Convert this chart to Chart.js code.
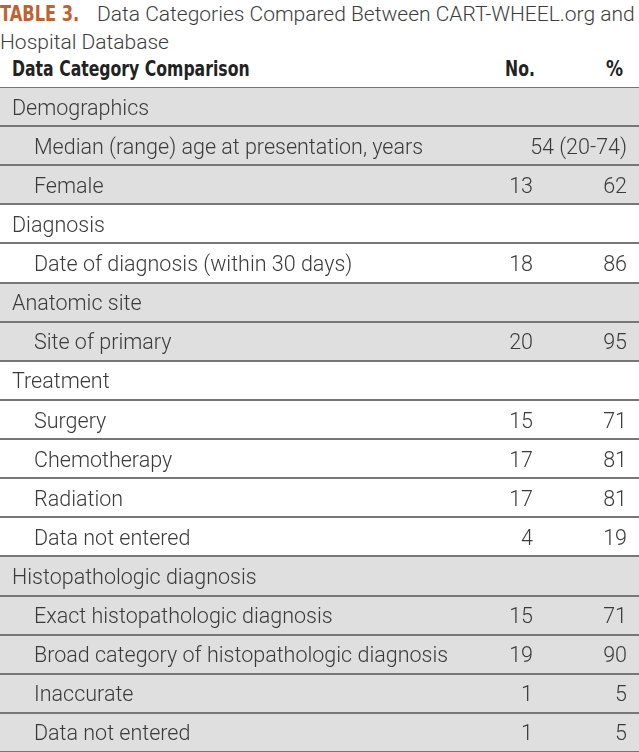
<!DOCTYPE html>
<html>
<head>
<meta charset="utf-8">
<script src="https://cdn.jsdelivr.net/npm/chart.js@4/dist/chart.umd.min.js"></script>
<style>
  body { margin: 0; background: #fff; width: 639px; height: 752px; overflow: hidden; position: relative; }
  #title { position: absolute; left: 0; top: 0; width: 639px; font-family: Roboto, sans-serif; font-weight: 300; font-size: 21px; line-height: 28px; color: #3d3d3d; white-space: nowrap; }
  #title b { display: inline-block; color: #c1612f; font-family: "DejaVu Sans Condensed", sans-serif; font-weight: 700; font-size: 21px; width: 97px; transform: scaleX(0.86); transform-origin: left; }
  #head { position: absolute; left: 0; top: 57px; width: 639px; height: 26px; font-family: "DejaVu Sans Condensed", sans-serif; font-weight: 700; font-size: 21px; color: #222; }
  #head span { position: absolute; top: 0; display: inline-block; }
  #wrap { position: absolute; left: 0; top: 87px; width: 639px; height: 665px; }
</style>
</head>
<body>
<div id="title"><b>TABLE 3.</b>Data Categories Compared Between CART-WHEEL.org and<br>Hospital Database</div>
<div id="head">
  <span style="left:12px; transform: scaleX(0.83); transform-origin: left">Data Category Comparison</span>
  <span style="right:104px; transform: scaleX(0.83); transform-origin: right">No.</span>
  <span style="right:16px; transform: scaleX(0.9); transform-origin: right">%</span>
</div>
<div id="wrap"><canvas id="graph"></canvas></div>
<script>
let groups = ['Demographics', 'Diagnosis', 'Anatomic site', 'Treatment', 'Histopathologic diagnosis']
let itemLabels = [
  ['Median (range) age at presentation, years', 'Female'],
  ['Date of diagnosis (within 30 days)'],
  ['Site of primary'],
  ['Surgery', 'Chemotherapy', 'Radiation', 'Data not entered'],
  ['Exact histopathologic diagnosis', 'Broad category of histopathologic diagnosis', 'Inaccurate', 'Data not entered']
]
let itemCounts = [['54 (20-74)', 13], [18], [20], [15, 17, 17, 4], [15, 19, 1, 1]]
let itemPercents = [[null, 62], [86], [95], [71, 81, 81, 19], [71, 90, 5, 5]]

// flatten groups + items into table rows
let rows = []
groups.forEach(function (g, gi) {
  rows.push({ label: g, sub: false, shade: gi % 2 == 0, no: null, pct: null })
  itemLabels[gi].forEach(function (lab, k) {
    rows.push({ label: lab, sub: true, shade: gi % 2 == 0, no: itemCounts[gi][k], pct: itemPercents[gi][k] })
  })
})

const cellText = {
  id: 'cellText',
  afterDraw(chart) {
    const ctx = chart.ctx
    const y = chart.scales.y
    const left = chart.chartArea.left
    ctx.save()
    ctx.fillStyle = '#3a3a3a'
    ctx.font = '300 21.5px Roboto'
    ctx.textBaseline = 'alphabetic'
    rows.forEach(function (r, i) {
      const py = y.getPixelForValue(i) + 8
      ctx.textAlign = 'left'
      ctx.fillText(r.label, left + (r.sub ? 34 : 12), py)
      ctx.textAlign = 'right'
      if (r.pct === null && r.no !== null) {
        ctx.fillText(String(r.no), left + 627, py)
      } else if (r.no !== null) {
        ctx.fillText(String(r.no), left + 533, py)
        ctx.fillText(String(r.pct), left + 627, py)
      }
    })
    ctx.restore()
  }
}

const data = {
  labels: rows.map(r => r.label),
  datasets: [{
    label: 'shade',
    data: rows.map(r => r.shade ? [0, 1] : null),
    backgroundColor: '#e0dfe0',
    borderWidth: 0,
    barPercentage: 1,
    categoryPercentage: 1
  }]
}

const config = {
  type: 'bar',
  data: data,
  options: {
    indexAxis: 'y',
    responsive: true,
    maintainAspectRatio: false,
    animation: false,
    layout: { padding: 0 },
    plugins: { legend: { display: false }, tooltip: { enabled: false } },
    scales: {
      x: {
        position: 'top',
        min: 0, max: 1,
        ticks: { display: false },
        grid: { display: false, drawTicks: false },
        border: { display: true, width: 3, color: '#333' }
      },
      y: {
        ticks: { display: false },
        grid: { z: 1, offset: true, color: '#777', lineWidth: 2, drawTicks: false },
        border: { display: false }
      }
    }
  },
  plugins: [cellText]
}

const myChart = new Chart(document.getElementById('graph'), config)
</script>
</body>
</html>
